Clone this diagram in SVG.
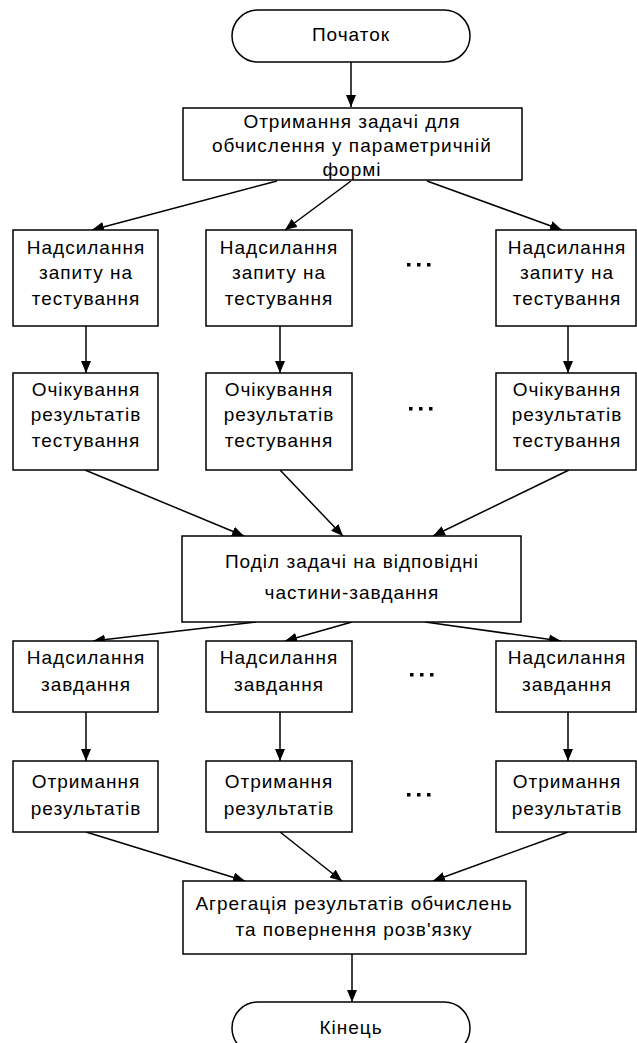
<svg xmlns="http://www.w3.org/2000/svg" width="637" height="1043" viewBox="0 0 637 1043">
<style>
.b{fill:#fff;stroke:#000;stroke-width:1.5}
.t{font-family:"Liberation Sans",Arial,sans-serif;font-size:19px;letter-spacing:1px;text-anchor:middle;fill:#000}
.c{stroke:#000;stroke-width:1.5;fill:none;marker-end:url(#a)}
.d{fill:#000}
</style>
<defs>
<marker id="a" viewBox="0 0 12 10" refX="12" refY="5" markerWidth="12" markerHeight="10" markerUnits="userSpaceOnUse" orient="auto">
<path d="M0,0 L12,5 L0,10 z" fill="#000"/>
</marker>
</defs>
<rect width="637" height="1043" fill="#fff"/>
<g id="connectors">
<line class="c" x1="351" y1="62" x2="351" y2="107"/>
<line class="c" x1="277" y1="181" x2="92" y2="230"/>
<line class="c" x1="351" y1="181" x2="285" y2="230"/>
<line class="c" x1="427" y1="181" x2="562" y2="230"/>
<line class="c" x1="86" y1="326" x2="86" y2="373"/>
<line class="c" x1="280" y1="326" x2="280" y2="373"/>
<line class="c" x1="568" y1="326" x2="568" y2="373"/>
<line class="c" x1="85" y1="470" x2="244" y2="536"/>
<line class="c" x1="280" y1="470" x2="343" y2="536"/>
<line class="c" x1="569" y1="470" x2="433" y2="536"/>
<line class="c" x1="256" y1="622" x2="93" y2="641"/>
<line class="c" x1="352" y1="622" x2="285" y2="641"/>
<line class="c" x1="425" y1="622" x2="561" y2="641"/>
<line class="c" x1="86" y1="712" x2="86" y2="761"/>
<line class="c" x1="280" y1="712" x2="280" y2="761"/>
<line class="c" x1="568" y1="712" x2="568" y2="761"/>
<line class="c" x1="86" y1="832" x2="245" y2="881"/>
<line class="c" x1="280" y1="832" x2="342" y2="881"/>
<line class="c" x1="568" y1="832" x2="433" y2="881"/>
<line class="c" x1="352" y1="954" x2="352" y2="1002"/>
</g>
<g id="start">
<rect class="b" x="232" y="10" width="238" height="52" rx="26" ry="26"/>
<text class="t" x="351" y="41">Початок</text>
</g>
<g id="receive">
<rect class="b" x="183" y="108" width="339" height="72"/>
<text class="t" x="352" y="128">Отримання задачі для</text>
<text class="t" x="352" y="152">обчислення у параметричній</text>
<text class="t" x="352" y="176">формі</text>
</g>
<g id="req1"><rect class="b" x="13" y="230" width="145" height="96"/>
<text class="t" x="86" y="254">Надсилання</text><text class="t" x="86" y="279">запиту на</text><text class="t" x="86" y="305">тестування</text></g>
<g id="req2"><rect class="b" x="206" y="230" width="146" height="96"/>
<text class="t" x="279" y="254">Надсилання</text><text class="t" x="279" y="279">запиту на</text><text class="t" x="279" y="305">тестування</text></g>
<g id="req3"><rect class="b" x="496" y="230" width="140" height="96"/>
<text class="t" x="567" y="254">Надсилання</text><text class="t" x="567" y="279">запиту на</text><text class="t" x="567" y="305">тестування</text></g>
<g id="dots1"><rect class="d" x="407" y="263" width="3.5" height="3.5"/><rect class="d" x="417" y="263" width="3.5" height="3.5"/><rect class="d" x="427" y="263" width="3.5" height="3.5"/></g>
<g id="wait1"><rect class="b" x="13" y="373" width="145" height="97"/>
<text class="t" x="86" y="396">Очікування</text><text class="t" x="86" y="421">результатів</text><text class="t" x="86" y="447">тестування</text></g>
<g id="wait2"><rect class="b" x="206" y="373" width="146" height="97"/>
<text class="t" x="279" y="396">Очікування</text><text class="t" x="279" y="421">результатів</text><text class="t" x="279" y="447">тестування</text></g>
<g id="wait3"><rect class="b" x="496" y="373" width="140" height="97"/>
<text class="t" x="567" y="396">Очікування</text><text class="t" x="567" y="421">результатів</text><text class="t" x="567" y="447">тестування</text></g>
<g id="dots2"><rect class="d" x="409" y="407" width="3.5" height="3.5"/><rect class="d" x="419" y="407" width="3.5" height="3.5"/><rect class="d" x="429" y="407" width="3.5" height="3.5"/></g>
<g id="split">
<rect class="b" x="182" y="536" width="339" height="86"/>
<text class="t" x="352" y="568">Поділ задачі на відповідні</text>
<text class="t" x="352" y="599">частини-завдання</text>
</g>
<g id="send1"><rect class="b" x="13" y="641" width="145" height="71"/>
<text class="t" x="86" y="664">Надсилання</text><text class="t" x="86" y="691">завдання</text></g>
<g id="send2"><rect class="b" x="206" y="641" width="146" height="71"/>
<text class="t" x="279" y="664">Надсилання</text><text class="t" x="279" y="691">завдання</text></g>
<g id="send3"><rect class="b" x="496" y="641" width="140" height="71"/>
<text class="t" x="567" y="664">Надсилання</text><text class="t" x="567" y="691">завдання</text></g>
<g id="dots3"><rect class="d" x="410" y="673" width="3.5" height="3.5"/><rect class="d" x="420" y="673" width="3.5" height="3.5"/><rect class="d" x="430" y="673" width="3.5" height="3.5"/></g>
<g id="get1"><rect class="b" x="13" y="761" width="145" height="71"/>
<text class="t" x="86" y="788">Отримання</text><text class="t" x="86" y="815">результатів</text></g>
<g id="get2"><rect class="b" x="206" y="761" width="146" height="71"/>
<text class="t" x="279" y="788">Отримання</text><text class="t" x="279" y="815">результатів</text></g>
<g id="get3"><rect class="b" x="496" y="761" width="140" height="71"/>
<text class="t" x="567" y="788">Отримання</text><text class="t" x="567" y="815">результатів</text></g>
<g id="dots4"><rect class="d" x="407" y="793" width="3.5" height="3.5"/><rect class="d" x="417" y="793" width="3.5" height="3.5"/><rect class="d" x="427" y="793" width="3.5" height="3.5"/></g>
<g id="aggregate">
<rect class="b" x="183" y="881" width="343" height="73"/>
<text class="t" x="354" y="910">Агрегація результатів обчислень</text>
<text class="t" x="354" y="936">та повернення розв'язку</text>
</g>
<g id="end">
<rect class="b" x="232" y="1002" width="238" height="52" rx="26" ry="26"/>
<text class="t" x="351" y="1034">Кінець</text>
</g>
</svg>
